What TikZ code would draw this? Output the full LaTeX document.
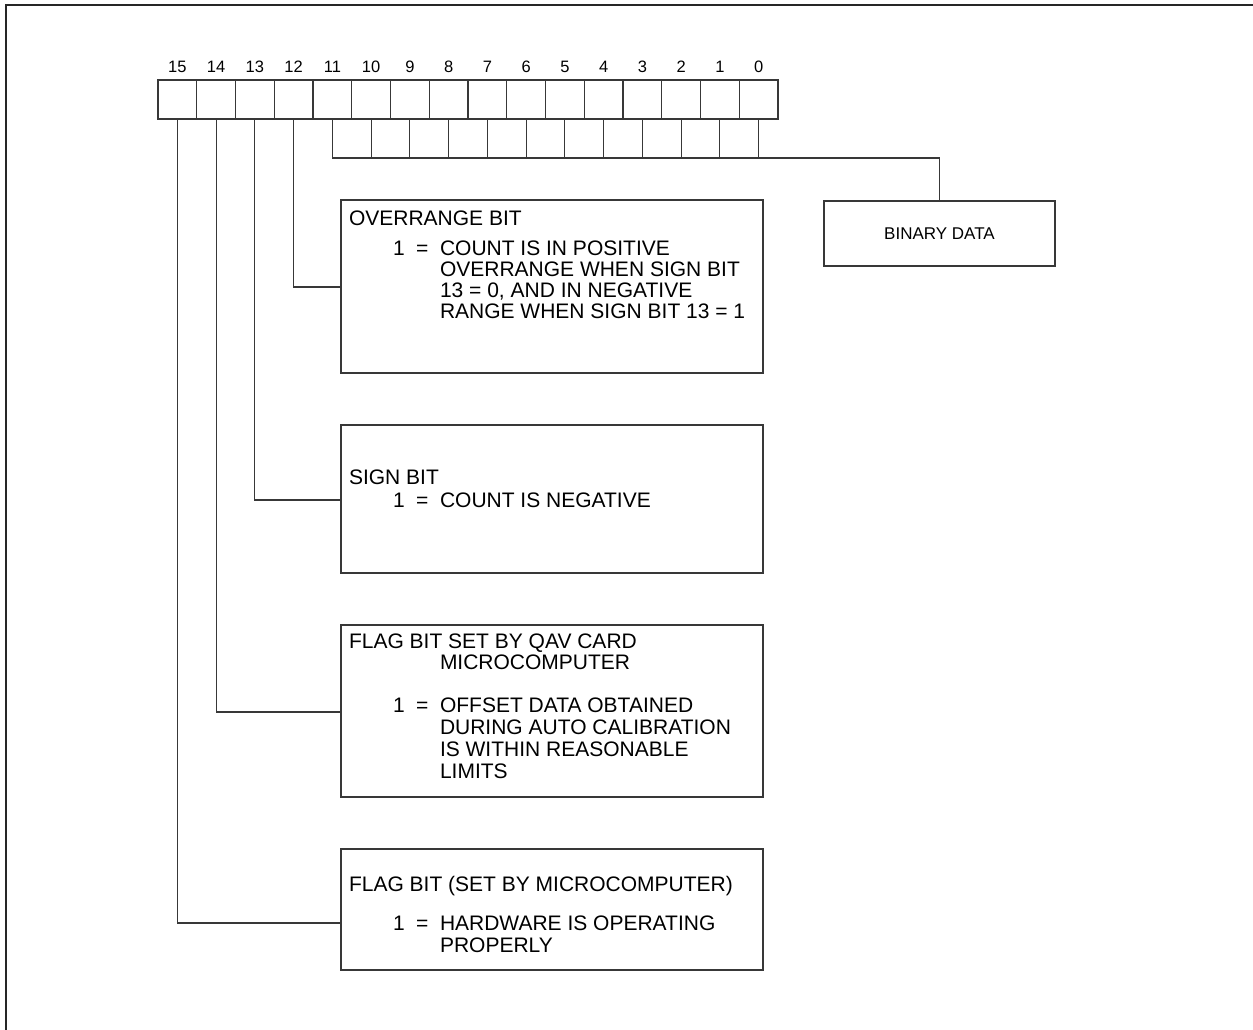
\documentclass[tikz,border=0pt]{standalone}
\usepackage{fontspec}
\setmainfont{Liberation Sans}
\begin{document}
\begin{tikzpicture}[x=1pt,y=-1pt,
  every node/.style={inner sep=0pt, outer sep=0pt},
  ln/.style={line width=1.2pt, draw=black!78},
  cell/.style={ln, minimum width=38.75pt, minimum height=39pt},
  infobox/.style={ln, anchor=north west, minimum width=422pt},
  txt/.style={anchor=base west, font=\fontsize{21}{21}\selectfont},
  bitnum/.style={font=\fontsize{16.5}{16.5}\selectfont},
  frameline/.style={line width=2pt, draw=black!85},
]
\useasboundingbox (0,0) rectangle (1253,1029);
\draw[frameline] (6,1030) -- (6,5) -- (1254,5);

% top row of 16 bit cells
\foreach \b [count=\i from 0] in {15,14,...,0} {
  \node[cell] (b\b) at (177.375+\i*38.75,99.5) {};
  \node[bitnum] (n\b) at (177.375+\i*38.75,67) {\b};
}
% lower row (binary data) cells, offset by half a cell
\foreach \k [count=\i from 0] in {10,9,...,0} {
  \node[cell] (d\k) at (351.75+\i*38.75,138.5) {};
}

% description boxes
\node[infobox, minimum height=173pt] (ovr) at (341,200) {};
\node[infobox, minimum height=148pt] (sgn) at (341,425) {};
\node[infobox, minimum height=172pt] (qav) at (341,625) {};
\node[infobox, minimum height=121pt] (mic) at (341,849) {};
\node[ln, anchor=north west, minimum width=231pt, minimum height=65pt,
      font=\fontsize{17}{17}\selectfont] (bin) at (824,201) {BINARY DATA};

% leaders
\draw[ln] (b12.south) |- (ovr.west |- 0,287);
\draw[ln] (b13.south) |- (sgn.west |- 0,500);
\draw[ln] (b14.south) |- (qav.west |- 0,712);
\draw[ln] (b15.south) |- (mic.west |- 0,923);
\draw[ln] (d0.south east) -| (bin.north);

% overrange text
\node[txt] (t1) at (349,225) {OVERRANGE BIT};
\node[txt] (t1a) at (393,255) {1};
\node[txt] (t1b) at (416,255) {=};
\node[txt] (t1c) at (440,255) {COUNT IS IN POSITIVE};
\node[txt] (t1d) at (440,276) {OVERRANGE WHEN SIGN BIT};
\node[txt] (t1e) at (440,297) {13 = 0, AND IN NEGATIVE};
\node[txt] (t1f) at (440,318) {RANGE WHEN SIGN BIT 13 = 1};

% sign text
\node[txt] (t2) at (349,484) {SIGN BIT};
\node[txt] (t2a) at (393,507) {1};
\node[txt] (t2b) at (416,507) {=};
\node[txt] (t2c) at (440,507) {COUNT IS NEGATIVE};

% QAV flag text
\node[txt] (t3) at (349,648) {FLAG BIT SET BY QAV CARD};
\node[txt] (t3m) at (440,669) {MICROCOMPUTER};
\node[txt] (t3a) at (393,712) {1};
\node[txt] (t3b) at (416,712) {=};
\node[txt] (t3c) at (440,712) {OFFSET DATA OBTAINED};
\node[txt] (t3d) at (440,734) {DURING AUTO CALIBRATION};
\node[txt] (t3e) at (440,756) {IS WITHIN REASONABLE};
\node[txt] (t3f) at (440,778) {LIMITS};

% microcomputer flag text
\node[txt] (t4) at (349,891) {FLAG BIT (SET BY MICROCOMPUTER)};
\node[txt] (t4a) at (393,930) {1};
\node[txt] (t4b) at (416,930) {=};
\node[txt] (t4c) at (440,930) {HARDWARE IS OPERATING};
\node[txt] (t4d) at (440,952) {PROPERLY};
\end{tikzpicture}
\end{document}
